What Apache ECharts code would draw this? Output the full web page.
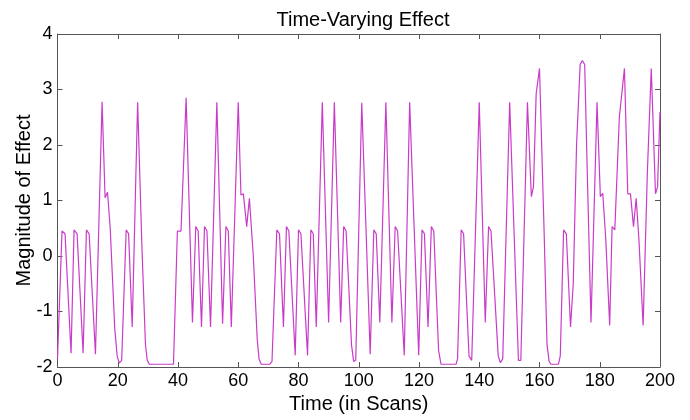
<!DOCTYPE html>
<html>
<head>
<meta charset="utf-8">
<script src="https://cdn.jsdelivr.net/npm/echarts@6/dist/echarts.min.js"></script>
<style>html,body{margin:0;padding:0;background:#fff}#c{width:690px;height:420px}</style>
</head>
<body>
<div id="c"></div>
<script>
// Vertices of the trace: [time (scan), magnitude]
const effect = [
  [0,-1.85],[1.5,0.45],[2.5,0.4],[4.5,-1.75],[5.5,0.47],[6.5,0.4],[8.5,-1.75],[9.6,0.47],[10.5,0.4],[12.6,-1.77],
  [14.8,2.78],[15.8,1.05],[16.6,1.15],[17.5,0.5],[19,-1.3],[19.8,-1.8],[20.5,-1.93],[21.3,-1.88],[22.8,0.47],[23.6,0.4],[24.8,-1.28],
  [26.6,2.77],[28,0.2],[29.2,-1.6],[29.8,-1.88],[30.5,-1.95],[38.5,-1.95],[39.8,0.45],[41,0.45],[42.7,2.85],[44.8,-1.2],
  [45.9,0.53],[46.7,0.45],[47.8,-1.28],[48.8,0.53],[49.6,0.45],[50.8,-1.28],[52.9,2.77],[54.8,-1.22],[55.9,0.53],[56.7,0.45],
  [57.7,-1.28],[60,2.77],[60.9,1.1],[61.7,1.12],[62.8,0.53],[63.7,1.04],[65,0],[66.3,-1.5],[66.9,-1.85],[67.6,-1.95],
  [70.5,-1.95],[71.2,-1.9],[72.8,0.47],[73.7,0.4],[75,-1.28],[76,0.53],[76.8,0.45],[78.9,-1.79],[80,0.47],[80.8,0.4],
  [83,-1.79],[84.1,0.47],[84.9,0.4],[85.9,-1.28],[87.9,2.77],[90,-1.2],[91.9,2.77],[94,-1.2],[95,0.53],[95.8,0.45],
  [97.6,-1.6],[98.3,-1.9],[99,-1.88],[101,2.76],[103.8,-1.77],[105,0.47],[105.8,0.4],[107,-1.2],[109,2.77],[111,-1.2],
  [112.1,0.53],[112.9,0.45],[115.1,-1.79],[116.9,2.77],[119.9,-1.79],[121,0.47],[121.8,0.4],[123,-1.28],[124.1,0.53],[124.9,0.45],
  [126.5,-1.7],[127.3,-1.95],[132.3,-1.95],[132.8,-1.85],[134,0.47],[134.8,0.4],[136.6,-1.8],[137.5,-1.88],[140,2.77],[142,-1.2],
  [143.1,0.53],[143.9,0.45],[146.3,-1.8],[147,-1.92],[147.8,-1.85],[150.1,2.77],[153,-1.88],[153.8,-1.88],[156,2.77],[157.3,1.07],
  [158,1.25],[158.9,2.93],[160,3.38],[161.5,0.5],[162.5,-1.6],[163.2,-1.9],[163.8,-1.95],[166.3,-1.95],[166.9,-1.8],[168,0.47],[168.9,0.4],
  [170.3,-1.28],[171.2,-0.5],[172.3,2],[173.5,3.45],[174.2,3.52],[175,3.45],[176,1.2],[177.1,-1.2],[179.1,2.77],[180.2,1.07],
  [181,1.13],[182,0.3],[183.3,-1.25],[184.1,0.53],[185,0.47],[186.5,2.5],[188.2,3.38],[189.3,1.12],[190.2,1.12],[191.2,0.53],
  [192.1,1.04],[193,0.3],[194.4,-1.25],[195.8,1.5],[197.1,3.38],[198.5,1.12],[199.2,1.25],[200,2.6]
];
const xTicks = {min: 0, max: 200, interval: 20};
const yTicks = {min: -2, max: 4, interval: 1};
const titleText = 'Time-Varying Effect';
const xName = 'Time (in Scans)';
const yName = 'Magnitude of Effect';

const font = 'Liberation Sans, Arial, Helvetica, sans-serif';
const axisColor = '#555';
const chart = echarts.init(document.getElementById('c'), null, {renderer: 'canvas'});
function baseAxis() {
  return {
    axisLine: {show: true, onZero: false, lineStyle: {color: axisColor, width: 1}},
    axisTick: {show: true, inside: true, length: 5, lineStyle: {color: axisColor}},
    splitLine: {show: false}
  };
}
chart.setOption({
  animation: false,
  backgroundColor: '#fff',
  title: {
    text: titleText, left: 358, top: 5, textAlign: 'center',
    textStyle: {fontFamily: font, fontSize: 20, fontWeight: 'normal', color: '#000'}
  },
  grid: {left: 57.5, right: 30, top: 34, bottom: 53, containLabel: false},
  xAxis: [
    Object.assign(baseAxis(), {
      type: 'value', min: xTicks.min, max: xTicks.max, interval: xTicks.interval,
      position: 'bottom', name: xName, nameLocation: 'middle', nameGap: 27, nameMoveOverlap: false,
      nameTextStyle: {fontFamily: font, fontSize: 20, color: '#000'},
      axisLabel: {fontFamily: font, fontSize: 18, color: '#000', margin: 5}
    }),
    Object.assign(baseAxis(), {
      type: 'value', min: xTicks.min, max: xTicks.max, interval: xTicks.interval,
      position: 'top', axisLabel: {show: false}
    })
  ],
  yAxis: [
    Object.assign(baseAxis(), {
      type: 'value', min: yTicks.min, max: yTicks.max, interval: yTicks.interval,
      position: 'left', name: yName, nameLocation: 'middle', nameGap: 23, nameRotate: 90, nameMoveOverlap: false,
      nameTextStyle: {fontFamily: font, fontSize: 20, color: '#000'},
      axisLabel: {fontFamily: font, fontSize: 18, color: '#000', margin: 5}
    }),
    Object.assign(baseAxis(), {
      type: 'value', min: yTicks.min, max: yTicks.max, interval: yTicks.interval,
      position: 'right', axisLabel: {show: false}
    })
  ],
  series: [{
    type: 'line', data: effect, showSymbol: false, smooth: false,
    xAxisIndex: 0, yAxisIndex: 0,
    lineStyle: {color: '#c83cc8', width: 1.2}
  }]
});
</script>
</body>
</html>
